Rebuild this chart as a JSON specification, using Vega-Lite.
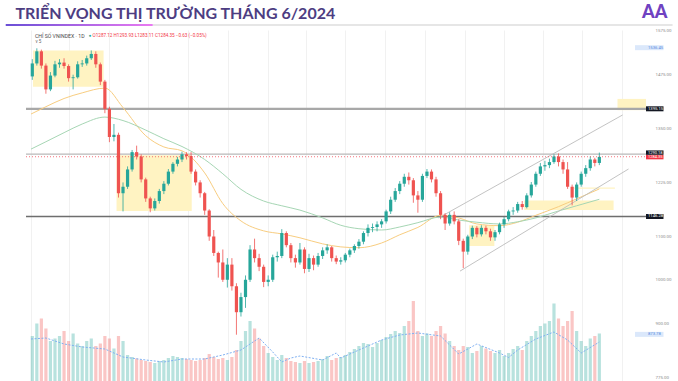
{
"$schema":"https://vega.github.io/schema/vega-lite/v6.json",
"width":625,"height":351,
"autosize":"none",
"padding":{"left":26,"top":30,"right":27,"bottom":0},
"background":"white",
"config":{"view":{"stroke":null},"font":"Roboto",
 "axisX":{"labels":false,"ticks":false,"domain":false,"grid":true,"gridColor":"#f1f1f1","gridWidth":1},
 "axisY":{"ticks":false,"domain":false,"grid":true,"gridColor":"#f3f3f3","labelFontSize":4.4,"labelColor":"#8c8c8c","labelFont":"Roboto","labelOverlap":false}},
"datasets":{
"k":[
{"d":"2022-01-03","o":1470,"h":1510,"l":1462,"c":1500,"v":900},
{"d":"2022-01-10","o":1500,"h":1535,"l":1495,"c":1528,"v":1150},
{"d":"2022-01-17","o":1528,"h":1532,"l":1488,"c":1495,"v":1250},
{"d":"2022-01-24","o":1495,"h":1500,"l":1430,"c":1440,"v":1050},
{"d":"2022-01-31","o":1440,"h":1480,"l":1436,"c":1472,"v":800},
{"d":"2022-02-07","o":1472,"h":1506,"l":1468,"c":1498,"v":850},
{"d":"2022-02-14","o":1498,"h":1510,"l":1490,"c":1502,"v":900},
{"d":"2022-02-21","o":1502,"h":1512,"l":1488,"c":1494,"v":1000},
{"d":"2022-02-28","o":1494,"h":1498,"l":1458,"c":1466,"v":800},
{"d":"2022-03-07","o":1466,"h":1474,"l":1440,"c":1468,"v":950},
{"d":"2022-03-14","o":1468,"h":1505,"l":1465,"c":1498,"v":750},
{"d":"2022-03-21","o":1498,"h":1508,"l":1492,"c":1500,"v":700},
{"d":"2022-03-28","o":1500,"h":1518,"l":1495,"c":1512,"v":800},
{"d":"2022-04-04","o":1512,"h":1530,"l":1508,"c":1522,"v":850},
{"d":"2022-04-11","o":1522,"h":1528,"l":1490,"c":1498,"v":700},
{"d":"2022-04-18","o":1498,"h":1502,"l":1450,"c":1458,"v":750},
{"d":"2022-04-25","o":1458,"h":1462,"l":1385,"c":1395,"v":900},
{"d":"2022-05-02","o":1395,"h":1400,"l":1318,"c":1330,"v":850},
{"d":"2022-05-09","o":1330,"h":1360,"l":1320,"c":1335,"v":650},
{"d":"2022-05-16","o":1335,"h":1340,"l":1190,"c":1200,"v":900},
{"d":"2022-05-23","o":1200,"h":1225,"l":1158,"c":1215,"v":800},
{"d":"2022-05-30","o":1215,"h":1262,"l":1210,"c":1255,"v":520},
{"d":"2022-06-06","o":1255,"h":1300,"l":1250,"c":1295,"v":480},
{"d":"2022-06-13","o":1295,"h":1310,"l":1278,"c":1285,"v":450},
{"d":"2022-06-20","o":1285,"h":1290,"l":1225,"c":1232,"v":420},
{"d":"2022-06-27","o":1232,"h":1236,"l":1180,"c":1188,"v":400},
{"d":"2022-07-04","o":1188,"h":1192,"l":1156,"c":1165,"v":380},
{"d":"2022-07-11","o":1165,"h":1188,"l":1160,"c":1182,"v":360},
{"d":"2022-07-18","o":1182,"h":1210,"l":1176,"c":1205,"v":400},
{"d":"2022-07-25","o":1205,"h":1228,"l":1198,"c":1222,"v":420},
{"d":"2022-08-01","o":1222,"h":1256,"l":1218,"c":1250,"v":460},
{"d":"2022-08-08","o":1250,"h":1272,"l":1245,"c":1268,"v":500},
{"d":"2022-08-15","o":1268,"h":1284,"l":1262,"c":1278,"v":480},
{"d":"2022-08-22","o":1278,"h":1296,"l":1272,"c":1290,"v":460},
{"d":"2022-08-29","o":1290,"h":1295,"l":1278,"c":1286,"v":440},
{"d":"2022-09-05","o":1286,"h":1295,"l":1245,"c":1250,"v":420},
{"d":"2022-09-12","o":1250,"h":1255,"l":1218,"c":1225,"v":400},
{"d":"2022-09-19","o":1225,"h":1230,"l":1190,"c":1200,"v":420},
{"d":"2022-09-26","o":1200,"h":1203,"l":1150,"c":1160,"v":460},
{"d":"2022-10-03","o":1160,"h":1163,"l":1090,"c":1100,"v":540},
{"d":"2022-10-10","o":1100,"h":1115,"l":1055,"c":1062,"v":480},
{"d":"2022-10-17","o":1062,"h":1065,"l":1005,"c":1040,"v":440},
{"d":"2022-10-24","o":1040,"h":1070,"l":995,"c":1000,"v":460},
{"d":"2022-10-31","o":1000,"h":1050,"l":982,"c":1035,"v":420},
{"d":"2022-11-07","o":1035,"h":1050,"l":975,"c":985,"v":480},
{"d":"2022-11-14","o":985,"h":992,"l":873,"c":925,"v":620},
{"d":"2022-11-21","o":925,"h":970,"l":915,"c":960,"v":800},
{"d":"2022-11-28","o":960,"h":1010,"l":935,"c":1000,"v":1000},
{"d":"2022-12-05","o":1000,"h":1080,"l":995,"c":1070,"v":1200},
{"d":"2022-12-12","o":1070,"h":1095,"l":1040,"c":1050,"v":1050},
{"d":"2022-12-19","o":1050,"h":1060,"l":1020,"c":1030,"v":850},
{"d":"2022-12-26","o":1030,"h":1035,"l":983,"c":995,"v":700},
{"d":"2023-01-02","o":995,"h":1010,"l":985,"c":1000,"v":560},
{"d":"2023-01-09","o":1000,"h":1058,"l":995,"c":1052,"v":480},
{"d":"2023-01-16","o":1052,"h":1065,"l":1042,"c":1055,"v":420},
{"d":"2023-01-23","o":1055,"h":1117,"l":1050,"c":1108,"v":520},
{"d":"2023-01-30","o":1108,"h":1112,"l":1075,"c":1080,"v":460},
{"d":"2023-02-06","o":1080,"h":1085,"l":1040,"c":1050,"v":400},
{"d":"2023-02-13","o":1050,"h":1058,"l":1028,"c":1040,"v":380},
{"d":"2023-02-20","o":1040,"h":1085,"l":1035,"c":1070,"v":360},
{"d":"2023-02-27","o":1070,"h":1075,"l":1015,"c":1025,"v":400},
{"d":"2023-03-06","o":1025,"h":1060,"l":1018,"c":1050,"v":360},
{"d":"2023-03-13","o":1050,"h":1056,"l":1022,"c":1035,"v":380},
{"d":"2023-03-20","o":1035,"h":1062,"l":1030,"c":1055,"v":400},
{"d":"2023-03-27","o":1055,"h":1075,"l":1048,"c":1068,"v":440},
{"d":"2023-04-03","o":1068,"h":1082,"l":1060,"c":1075,"v":500},
{"d":"2023-04-10","o":1075,"h":1078,"l":1042,"c":1050,"v":420},
{"d":"2023-04-17","o":1050,"h":1056,"l":1036,"c":1042,"v":460},
{"d":"2023-04-24","o":1042,"h":1052,"l":1035,"c":1045,"v":480},
{"d":"2023-05-01","o":1045,"h":1062,"l":1040,"c":1058,"v":520},
{"d":"2023-05-08","o":1058,"h":1072,"l":1052,"c":1068,"v":580},
{"d":"2023-05-15","o":1068,"h":1082,"l":1062,"c":1078,"v":640},
{"d":"2023-05-22","o":1078,"h":1094,"l":1072,"c":1088,"v":700},
{"d":"2023-05-29","o":1088,"h":1112,"l":1082,"c":1108,"v":760},
{"d":"2023-06-05","o":1108,"h":1128,"l":1100,"c":1120,"v":740},
{"d":"2023-06-12","o":1120,"h":1130,"l":1110,"c":1122,"v":680},
{"d":"2023-06-19","o":1122,"h":1135,"l":1112,"c":1128,"v":760},
{"d":"2023-06-26","o":1128,"h":1140,"l":1120,"c":1135,"v":820},
{"d":"2023-07-03","o":1135,"h":1162,"l":1130,"c":1158,"v":880},
{"d":"2023-07-10","o":1158,"h":1192,"l":1152,"c":1185,"v":940},
{"d":"2023-07-17","o":1185,"h":1212,"l":1180,"c":1205,"v":1000},
{"d":"2023-07-24","o":1205,"h":1228,"l":1198,"c":1222,"v":960},
{"d":"2023-07-31","o":1222,"h":1245,"l":1215,"c":1238,"v":1100},
{"d":"2023-08-07","o":1238,"h":1248,"l":1220,"c":1230,"v":1200},
{"d":"2023-08-14","o":1230,"h":1235,"l":1178,"c":1195,"v":1600},
{"d":"2023-08-21","o":1195,"h":1205,"l":1155,"c":1185,"v":1000},
{"d":"2023-08-28","o":1185,"h":1245,"l":1180,"c":1240,"v":900},
{"d":"2023-09-04","o":1240,"h":1256,"l":1235,"c":1250,"v":950},
{"d":"2023-09-11","o":1250,"h":1255,"l":1225,"c":1232,"v":900},
{"d":"2023-09-18","o":1232,"h":1238,"l":1192,"c":1200,"v":1000},
{"d":"2023-09-25","o":1200,"h":1205,"l":1140,"c":1150,"v":1100},
{"d":"2023-10-02","o":1150,"h":1154,"l":1115,"c":1130,"v":950},
{"d":"2023-10-09","o":1130,"h":1156,"l":1125,"c":1150,"v":800},
{"d":"2023-10-16","o":1150,"h":1158,"l":1128,"c":1135,"v":700},
{"d":"2023-10-23","o":1135,"h":1140,"l":1080,"c":1090,"v":620},
{"d":"2023-10-30","o":1090,"h":1095,"l":1027,"c":1065,"v":700},
{"d":"2023-11-06","o":1065,"h":1104,"l":1058,"c":1100,"v":680},
{"d":"2023-11-13","o":1100,"h":1125,"l":1094,"c":1120,"v":560},
{"d":"2023-11-20","o":1120,"h":1124,"l":1098,"c":1105,"v":600},
{"d":"2023-11-27","o":1105,"h":1126,"l":1100,"c":1120,"v":700},
{"d":"2023-12-04","o":1120,"h":1125,"l":1105,"c":1112,"v":650},
{"d":"2023-12-11","o":1112,"h":1118,"l":1090,"c":1098,"v":600},
{"d":"2023-12-18","o":1098,"h":1115,"l":1090,"c":1110,"v":560},
{"d":"2023-12-25","o":1110,"h":1132,"l":1105,"c":1128,"v":620},
{"d":"2024-01-01","o":1128,"h":1145,"l":1120,"c":1140,"v":500},
{"d":"2024-01-08","o":1140,"h":1162,"l":1135,"c":1158,"v":560},
{"d":"2024-01-15","o":1158,"h":1168,"l":1150,"c":1160,"v":640},
{"d":"2024-01-22","o":1160,"h":1180,"l":1155,"c":1175,"v":700},
{"d":"2024-01-29","o":1175,"h":1182,"l":1162,"c":1168,"v":620},
{"d":"2024-02-05","o":1168,"h":1200,"l":1165,"c":1195,"v":800},
{"d":"2024-02-12","o":1195,"h":1226,"l":1190,"c":1220,"v":900},
{"d":"2024-02-19","o":1220,"h":1250,"l":1215,"c":1245,"v":1000},
{"d":"2024-02-26","o":1245,"h":1270,"l":1240,"c":1262,"v":1100},
{"d":"2024-03-04","o":1262,"h":1275,"l":1252,"c":1265,"v":1150},
{"d":"2024-03-11","o":1265,"h":1280,"l":1258,"c":1272,"v":1200},
{"d":"2024-03-18","o":1272,"h":1290,"l":1268,"c":1285,"v":1550},
{"d":"2024-03-25","o":1285,"h":1292,"l":1262,"c":1272,"v":1250},
{"d":"2024-04-01","o":1272,"h":1278,"l":1245,"c":1255,"v":1100},
{"d":"2024-04-08","o":1255,"h":1272,"l":1210,"c":1215,"v":1200},
{"d":"2024-04-15","o":1215,"h":1220,"l":1172,"c":1190,"v":1400},
{"d":"2024-04-22","o":1190,"h":1225,"l":1182,"c":1220,"v":1000},
{"d":"2024-04-29","o":1220,"h":1250,"l":1215,"c":1245,"v":800},
{"d":"2024-05-06","o":1245,"h":1265,"l":1238,"c":1258,"v":700},
{"d":"2024-05-13","o":1258,"h":1285,"l":1252,"c":1278,"v":850},
{"d":"2024-05-20","o":1278,"h":1282,"l":1262,"c":1270,"v":900},
{"d":"2024-05-27","o":1270,"h":1294,"l":1265,"c":1284,"v":950}
],
"ma":[
{"d":"2022-01-01","y":1383,"g":1302},{"d":"2022-01-24","y":1400,"g":1319},{"d":"2022-02-21","y":1419,"g":1340},
{"d":"2022-03-21","y":1432,"g":1360},{"d":"2022-04-25","y":1443,"g":1376},{"d":"2022-05-23","y":1398,"g":1368},
{"d":"2022-06-27","y":1333,"g":1346},{"d":"2022-07-25","y":1307,"g":1326},{"d":"2022-08-22","y":1298,"g":1308},
{"d":"2022-09-26","y":1247,"g":1278},{"d":"2022-10-24","y":1176,"g":1245},{"d":"2022-11-21","y":1136,"g":1209},
{"d":"2022-12-26","y":1113,"g":1182},{"d":"2023-01-23","y":1106,"g":1171},{"d":"2023-02-20","y":1097,"g":1161},
{"d":"2023-03-27","y":1083,"g":1143},{"d":"2023-04-24","y":1076,"g":1126},{"d":"2023-05-22","y":1074,"g":1118},
{"d":"2023-06-26","y":1085,"g":1115},{"d":"2023-07-24","y":1104,"g":1122},{"d":"2023-08-21","y":1121,"g":1132},
{"d":"2023-09-25","y":1149,"g":1145},{"d":"2023-10-23","y":1143,"g":1138},{"d":"2023-11-20","y":1129,"g":1133},
{"d":"2023-12-25","y":1125,"g":1129},{"d":"2024-01-22","y":1133,"g":1134},{"d":"2024-02-19","y":1149,"g":1143},
{"d":"2024-03-25","y":1169,"g":1159},{"d":"2024-04-22","y":1187,"g":1171},{"d":"2024-05-27","y":1210,"g":1186}
],
"vma":[
{"d":"2022-01-01","v":840},{"d":"2022-01-24","v":860},{"d":"2022-02-21","v":740},{"d":"2022-03-21","v":680},
{"d":"2022-04-25","v":640},{"d":"2022-05-23","v":480},{"d":"2022-06-27","v":420},{"d":"2022-07-25","v":380},
{"d":"2022-08-22","v":440},{"d":"2022-09-26","v":440},{"d":"2022-10-24","v":520},{"d":"2022-11-21","v":620},
{"d":"2022-12-19","v":860},{"d":"2023-01-09","v":580},{"d":"2023-01-23","v":380},{"d":"2023-02-06","v":460},
{"d":"2023-02-20","v":500},{"d":"2023-03-27","v":420},{"d":"2023-04-17","v":560},{"d":"2023-04-24","v":460},
{"d":"2023-05-22","v":620},{"d":"2023-06-26","v":820},{"d":"2023-07-24","v":920},{"d":"2023-08-21","v":960},
{"d":"2023-09-25","v":900},{"d":"2023-10-23","v":540},{"d":"2023-11-20","v":740},{"d":"2023-12-25","v":560},
{"d":"2024-01-08","v":470},{"d":"2024-01-22","v":620},{"d":"2024-02-19","v":840},{"d":"2024-03-18","v":980},
{"d":"2024-04-08","v":820},{"d":"2024-04-29","v":560},{"d":"2024-05-27","v":780}
],
"box":[
{"s":"2022-01-04","e":"2022-04-23","t":1530,"b":1446},
{"s":"2022-05-13","e":"2022-09-06","t":1288,"b":1159},
{"s":"2023-11-08","e":"2023-12-17","t":1126,"b":1078},
{"s":"2024-02-01","e":"2024-06-18","t":1183,"b":1161},
{"s":"2024-04-18","e":"2024-06-20","t":1213.5,"b":1210.5},
{"s":"2024-06-24","e":"2024-08-07","t":1418,"b":1392}
],
"trend":[
{"id":"a","d":"2023-09-22","p":1143},{"id":"a","d":"2024-07-02","p":1381},
{"id":"b","d":"2023-10-25","p":1020},{"id":"b","d":"2024-07-11","p":1256}
]
},
"resolve":{"scale":{"y":"independent"}},
"layer":[
{"layer":[
 {"data":{"name":"k"},"mark":{"type":"bar","width":3.2,"opacity":0.33},
  "encoding":{"x":{"field":"d","type":"temporal","title":null,"scale":{"domain":[{"year":2022,"month":1,"date":1,"utc":true},{"year":2024,"month":8,"date":7,"utc":true}]}},
   "y":{"field":"v","type":"quantitative","axis":null,"scale":{"domain":[0,7020],"nice":false}},
   "color":{"condition":{"test":"datum.c >= datum.o","value":"#26a69a"},"value":"#ef5350"}}},
 {"data":{"name":"vma"},"mark":{"type":"line","color":"#7fb0f2","strokeWidth":1,"strokeDash":[2,1.5]},
  "encoding":{"x":{"field":"d","type":"temporal","title":null},"y":{"field":"v","type":"quantitative","axis":null,"scale":{"domain":[0,7020],"nice":false}}}}
]},
{"layer":[
 {"data":{"name":"box"},"mark":{"type":"rect","color":"#fff3c2"},
  "encoding":{"x":{"field":"s","type":"temporal","title":null,"axis":{"tickCount":{"interval":"month","step":2}},"scale":{"domain":[{"year":2022,"month":1,"date":1,"utc":true},{"year":2024,"month":8,"date":7,"utc":true}]}},
   "x2":{"field":"e"},
   "y":{"field":"t","type":"quantitative","title":null,"scale":{"domain":[766,1577.3],"nice":false,"zero":false},
    "axis":{"orient":"right","labelPadding":4,"labelAlign":"left","format":".2f","values":[775,800,825,850,900,925,950,975,1000,1025,1050,1075,1100,1125,1175,1200,1225,1250,1275,1325,1350,1375,1425,1450,1475,1500,1525,1550,1575]}},
   "y2":{"field":"b"}}},
 {"data":{"values":[{}]},"mark":{"type":"rule","color":"#a8a8a8","strokeWidth":2.2},"encoding":{"y":{"datum":1395.15,"type":"quantitative","title":null}}},
 {"data":{"values":[{}]},"mark":{"type":"rule","color":"#b9b9b9","strokeWidth":1.2},"encoding":{"y":{"datum":1290.18,"type":"quantitative","title":null}}},
 {"data":{"values":[{}]},"mark":{"type":"rule","color":"#6e6e6e","strokeWidth":1.4},"encoding":{"y":{"datum":1146.28,"type":"quantitative","title":null}}},
 {"data":{"name":"ma"},"mark":{"type":"line","color":"#f8cd80","strokeWidth":1,"interpolate":"monotone"},
  "encoding":{"x":{"field":"d","type":"temporal","title":null},"y":{"field":"y","type":"quantitative","title":null}}},
 {"data":{"name":"ma"},"mark":{"type":"line","color":"#a6d6b4","strokeWidth":1,"interpolate":"monotone"},
  "encoding":{"x":{"field":"d","type":"temporal","title":null},"y":{"field":"g","type":"quantitative","title":null}}},
 {"data":{"name":"trend"},"mark":{"type":"line","color":"#bcbcbc","strokeWidth":0.9},
  "encoding":{"x":{"field":"d","type":"temporal","title":null},"y":{"field":"p","type":"quantitative","title":null},"detail":{"field":"id"}}},
 {"data":{"name":"k"},"mark":{"type":"rule","strokeWidth":0.8},
  "encoding":{"x":{"field":"d","type":"temporal","title":null},"y":{"field":"l","type":"quantitative","title":null},"y2":{"field":"h"},
   "color":{"condition":{"test":"datum.c >= datum.o","value":"#26a69a"},"value":"#ef5350"}}},
 {"data":{"name":"k"},"mark":{"type":"bar","width":3.2},
  "encoding":{"x":{"field":"d","type":"temporal","title":null},"y":{"field":"o","type":"quantitative","title":null},"y2":{"field":"c"},
   "color":{"condition":{"test":"datum.c >= datum.o","value":"#26a69a"},"value":"#ef5350"}}},
 {"data":{"values":[{}]},"mark":{"type":"rule","color":"#f23645","strokeWidth":0.7,"strokeDash":[1,2]},"encoding":{"y":{"datum":1284.35,"type":"quantitative","title":null}}},
 {"data":{"values":[{}]},"mark":{"type":"text","text":"CHỈ SỐ VNINDEX · 1D","fontSize":5.2,"color":"#4a4a4a","align":"left","baseline":"middle"},
  "encoding":{"x":{"datum":{"year":2022,"month":1,"date":7,"utc":true},"type":"temporal"},"y":{"datum":1563.4,"type":"quantitative"}}},
 {"data":{"values":[{}]},"mark":{"type":"text","text":"●","fontSize":4.5,"color":"#26a69a","align":"left","baseline":"middle"},
  "encoding":{"x":{"datum":{"year":2022,"month":3,"date":31,"utc":true},"type":"temporal"},"y":{"datum":1563.4,"type":"quantitative"}}},
 {"data":{"values":[{}]},"mark":{"type":"text","text":"O1287.12 H1293.93 L1283.11 C1284.35 −0.63 (−0.05%)","fontSize":4.6,"color":"#f23645","align":"left","baseline":"middle"},
  "encoding":{"x":{"datum":{"year":2022,"month":4,"date":6,"utc":true},"type":"temporal"},"y":{"datum":1563.4,"type":"quantitative"}}},
 {"data":{"values":[{}]},"mark":{"type":"text","text":"v 5","fontSize":4.5,"color":"#666666","align":"left","baseline":"middle"},
  "encoding":{"x":{"datum":{"year":2022,"month":1,"date":8,"utc":true},"type":"temporal"},"y":{"datum":1549.6,"type":"quantitative"}}},
 {"data":{"values":[{"p":1536.45},{"p":873.78}]},"mark":{"type":"rule","color":"#dbe8fb","strokeWidth":5},
  "encoding":{"x":{"datum":{"year":2024,"month":7,"date":21,"utc":true},"type":"temporal"},"x2":{"datum":{"year":2024,"month":9,"date":3,"utc":true}},"y":{"field":"p","type":"quantitative","title":null}}},
 {"data":{"values":[{"p":1536.45},{"p":873.78}]},"mark":{"type":"text","fontSize":4.2,"color":"#5a8be0","align":"left","baseline":"middle"},
  "encoding":{"x":{"datum":{"year":2024,"month":8,"date":10,"utc":true},"type":"temporal"},"y":{"field":"p","type":"quantitative","title":null},"text":{"field":"p","type":"quantitative","format":".2f"}}},
 {"data":{"values":[{"p":1395.15},{"p":1146.28}]},"mark":{"type":"rule","color":"#131722","strokeWidth":5},
  "encoding":{"x":{"datum":{"year":2024,"month":8,"date":7,"utc":true},"type":"temporal"},"x2":{"datum":{"year":2024,"month":9,"date":3,"utc":true}},"y":{"field":"p","type":"quantitative","title":null}}},
 {"data":{"values":[{"p":1395.15},{"p":1146.28}]},"mark":{"type":"text","fontSize":4.2,"color":"white","align":"left","baseline":"middle"},
  "encoding":{"x":{"datum":{"year":2024,"month":8,"date":10,"utc":true},"type":"temporal"},"y":{"field":"p","type":"quantitative","title":null},"text":{"field":"p","type":"quantitative","format":".2f"}}},
 {"data":{"values":[{"p":1290.18}]},"mark":{"type":"rule","color":"#131722","strokeWidth":4.4,"yOffset":-1.6},
  "encoding":{"x":{"datum":{"year":2024,"month":8,"date":7,"utc":true},"type":"temporal"},"x2":{"datum":{"year":2024,"month":9,"date":3,"utc":true}},"y":{"field":"p","type":"quantitative","title":null}}},
 {"data":{"values":[{"p":1290.18}]},"mark":{"type":"text","fontSize":4,"color":"white","align":"left","baseline":"middle","dy":-1.6},
  "encoding":{"x":{"datum":{"year":2024,"month":8,"date":10,"utc":true},"type":"temporal"},"y":{"field":"p","type":"quantitative","title":null},"text":{"field":"p","type":"quantitative","format":".2f"}}},
 {"data":{"values":[{"p":1284.35}]},"mark":{"type":"rule","color":"#f23645","strokeWidth":4.4,"yOffset":0.4},
  "encoding":{"x":{"datum":{"year":2024,"month":8,"date":7,"utc":true},"type":"temporal"},"x2":{"datum":{"year":2024,"month":9,"date":3,"utc":true}},"y":{"field":"p","type":"quantitative","title":null}}},
 {"data":{"values":[{"p":1284.35}]},"mark":{"type":"text","fontSize":4,"color":"white","align":"left","baseline":"middle","dy":0.4},
  "encoding":{"x":{"datum":{"year":2024,"month":8,"date":10,"utc":true},"type":"temporal"},"y":{"field":"p","type":"quantitative","title":null},"text":{"field":"p","type":"quantitative","format":".2f"}}},
 {"data":{"values":[{}]},"mark":{"type":"rect","fill":{"gradient":"linear","x1":0,"y1":0,"x2":1,"y2":0,"stops":[{"offset":0,"color":"#6a4fd6"},{"offset":1,"color":"#ea7af2"}]}},
  "encoding":{"x":{"datum":{"year":2021,"month":11,"date":23,"utc":true},"type":"temporal"},"x2":{"datum":{"year":2022,"month":7,"date":8,"utc":true}},"y":{"datum":1591.2,"type":"quantitative"},"y2":{"datum":1586.5}}},
 {"data":{"values":[{}]},"mark":{"type":"rect","fill":"#e6e6e6"},
  "encoding":{"x":{"datum":{"year":2022,"month":7,"date":8,"utc":true},"type":"temporal"},"x2":{"datum":{"year":2024,"month":9,"date":17,"utc":true}},"y":{"datum":1591.2,"type":"quantitative"},"y2":{"datum":1586.5}}},
 {"data":{"values":[{}]},"mark":{"type":"text","text":"TRIỂN VỌNG THỊ TRƯỜNG THÁNG 6/2024","font":"Lato","fontSize":16,"fontWeight":"bold","color":"#4d3d82","align":"left","baseline":"alphabetic"},
  "encoding":{"x":{"datum":{"year":2021,"month":12,"date":8,"utc":true},"type":"temporal"},"y":{"datum":1602.7,"type":"quantitative"}}},
 {"data":{"values":[{}]},"mark":{"type":"text","text":"AA","font":"Lato","fontSize":18,"fontWeight":900,"color":"#6f42c1","align":"left","baseline":"alphabetic"},
  "encoding":{"x":{"datum":{"year":2024,"month":8,"date":1,"utc":true},"type":"temporal"},"y":{"datum":1605,"type":"quantitative"}}}
]}
]
}
